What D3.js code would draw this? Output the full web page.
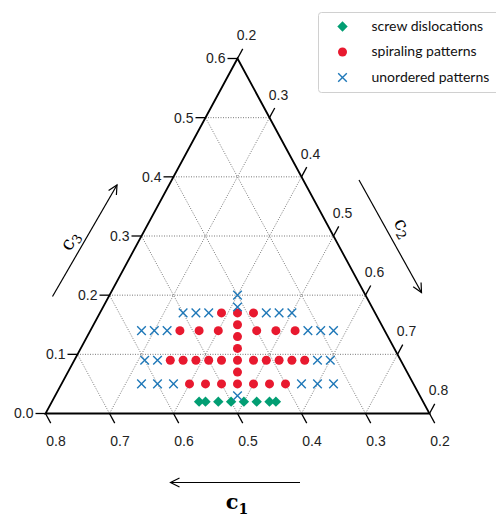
<!DOCTYPE html>
<html>
<head>
<meta charset="utf-8">
<script src="https://cdn.jsdelivr.net/npm/d3@7"></script>
<style>
  html, body { margin: 0; padding: 0; background: #fff; }
  svg { display: block; }
</style>
</head>
<body>
<svg id="chart" width="496" height="516"></svg>
<script>
// Composition points (c1, c2, c3), each row sums to 1.
const screwDislocations = [
  [0.55, 0.43, 0.02], [0.54, 0.44, 0.02], [0.52, 0.46, 0.02], [0.50, 0.48, 0.02],
  [0.48, 0.50, 0.02], [0.46, 0.52, 0.02], [0.44, 0.54, 0.02], [0.43, 0.55, 0.02]
];

const spiralingPatterns = [
  // c3 = 0.17
  [0.44, 0.39, 0.17], [0.415, 0.415, 0.17], [0.39, 0.44, 0.17],
  // c3 = 0.14
  [0.52, 0.34, 0.14], [0.49, 0.37, 0.14], [0.46, 0.40, 0.14],
  [0.40, 0.46, 0.14], [0.37, 0.49, 0.14], [0.34, 0.52, 0.14],
  // c1 = c2 column
  [0.425, 0.425, 0.15], [0.435, 0.435, 0.13], [0.445, 0.445, 0.11], [0.465, 0.465, 0.07],
  // c3 = 0.09
  [0.56, 0.35, 0.09], [0.54, 0.37, 0.09], [0.52, 0.39, 0.09], [0.50, 0.41, 0.09],
  [0.48, 0.43, 0.09], [0.455, 0.455, 0.09], [0.43, 0.48, 0.09], [0.41, 0.50, 0.09],
  [0.39, 0.52, 0.09], [0.37, 0.54, 0.09], [0.35, 0.56, 0.09],
  // c3 = 0.05
  [0.55, 0.40, 0.05], [0.525, 0.425, 0.05], [0.50, 0.45, 0.05], [0.475, 0.475, 0.05],
  [0.45, 0.50, 0.05], [0.425, 0.525, 0.05], [0.40, 0.55, 0.05]
];

const unorderedPatterns = [
  [0.40, 0.40, 0.20], [0.41, 0.41, 0.18], [0.485, 0.485, 0.03],
  // c3 = 0.17
  [0.50, 0.33, 0.17], [0.48, 0.35, 0.17], [0.46, 0.37, 0.17],
  [0.37, 0.46, 0.17], [0.35, 0.48, 0.17], [0.33, 0.50, 0.17],
  // c3 = 0.14
  [0.58, 0.28, 0.14], [0.56, 0.30, 0.14], [0.54, 0.32, 0.14],
  [0.32, 0.54, 0.14], [0.30, 0.56, 0.14], [0.28, 0.58, 0.14],
  // c3 = 0.09
  [0.60, 0.31, 0.09], [0.58, 0.33, 0.09], [0.33, 0.58, 0.09], [0.31, 0.60, 0.09],
  // c3 = 0.05
  [0.625, 0.325, 0.05], [0.60, 0.35, 0.05], [0.575, 0.375, 0.05],
  [0.375, 0.575, 0.05], [0.35, 0.60, 0.05], [0.325, 0.625, 0.05]
];

const c1Ticks = [0.8, 0.7, 0.6, 0.5, 0.4, 0.3, 0.2];
const c2Ticks = [0.2, 0.3, 0.4, 0.5, 0.6, 0.7, 0.8];
const c3Ticks = [0.0, 0.1, 0.2, 0.3, 0.4, 0.5, 0.6];
const gridValues = [0.3, 0.4, 0.5, 0.6, 0.7];
const c3Grid = [0.1, 0.2, 0.3, 0.4, 0.5];

const legendItems = [
  { label: "screw dislocations", kind: "diamond", color: "#029e73" },
  { label: "spiraling patterns", kind: "circle", color: "#e8192f" },
  { label: "unordered patterns", kind: "cross", color: "#1f78b8" }
];

// Limits of the ternary window: c1, c2 in [0.2, 0.8], c3 in [0, 0.6]
const x = d3.scaleLinear().domain([-0.6, 0.6]).range([45.5, 429.5]); // c2 - c1
const y = d3.scaleLinear().domain([0, 0.6]).range([413.5, 58.5]);    // c3
const P = (c1, c2, c3) => [x(c2 - c1), y(c3)];

const svg = d3.select("#chart");

const BL = P(0.8, 0.2, 0.0), BR = P(0.2, 0.8, 0.0), TOP = P(0.2, 0.2, 0.6);

// unit directions along the triangle edges
function unit(a, b) { const dx = b[0] - a[0], dy = b[1] - a[1], l = Math.hypot(dx, dy); return [dx / l, dy / l]; }
const upLeft = unit(BL, TOP);     // along left edge, upward
const downRight = unit(TOP, BR);  // along right edge, downward

// grid
const grid = svg.append("g")
  .attr("fill", "none").attr("stroke", "#6a6a6a")
  .attr("stroke-width", 0.9).attr("stroke-dasharray", "1,1.5");
const line = d3.line();
c3Grid.forEach(v => grid.append("path").attr("d", line([P(0.8 - v, 0.2, v), P(0.2, 0.8 - v, v)])));
gridValues.forEach(v => grid.append("path").attr("d", line([P(v, 1 - v, 0), P(v, 0.2, 0.8 - v)])));
gridValues.forEach(v => grid.append("path").attr("d", line([P(1 - v, v, 0), P(0.2, v, 0.8 - v)])));

// ticks and tick labels
const axes = svg.append("g").attr("stroke", "#000").attr("stroke-width", 1.3);
const labelFont = "'Liberation Sans', Arial, sans-serif";
const tl = svg.append("g").attr("font-family", labelFont).attr("font-size", 14).attr("fill", "#222");

c3Ticks.forEach(v => {
  const p = P(0.8 - v, 0.2, v);
  axes.append("line").attr("x1", p[0]).attr("y1", p[1]).attr("x2", p[0] - 10).attr("y2", p[1]);
  tl.append("text").attr("x", p[0] - 12).attr("y", p[1]).attr("dy", "0.35em")
    .attr("text-anchor", "end").text(d3.format(".1f")(v));
});
c1Ticks.forEach(v => {
  const p = P(v, 1 - v, 0);
  axes.append("line").attr("x1", p[0]).attr("y1", p[1])
    .attr("x2", p[0] + downRight[0] * 11).attr("y2", p[1] + downRight[1] * 11);
  tl.append("text").attr("x", p[0] + 10.5).attr("y", p[1] + 28).attr("dy", "0.35em")
    .attr("text-anchor", "middle").text(d3.format(".1f")(v));
});
c2Ticks.forEach(v => {
  const p = P(0.2, v, 0.8 - v);
  axes.append("line").attr("x1", p[0]).attr("y1", p[1])
    .attr("x2", p[0] + upLeft[0] * 11).attr("y2", p[1] + upLeft[1] * 11);
  tl.append("text").attr("x", p[0] + 9).attr("y", p[1] - 23).attr("dy", "0.35em")
    .attr("text-anchor", "middle").text(d3.format(".1f")(v));
});

// triangle frame
svg.append("path")
  .attr("d", line([BL, BR, TOP]) + "Z")
  .attr("fill", "none").attr("stroke", "#000").attr("stroke-width", 1.8)
  .attr("stroke-linejoin", "miter");

// markers
const marks = svg.append("g");
const diamond = d3.symbol().type(d3.symbolSquare).size(54);
marks.append("g").selectAll("path").data(screwDislocations).join("path")
  .attr("transform", d => `translate(${P(...d)}) rotate(45)`)
  .attr("d", diamond).attr("fill", legendItems[0].color);

marks.append("g").selectAll("circle").data(spiralingPatterns).join("circle")
  .attr("cx", d => P(...d)[0]).attr("cy", d => P(...d)[1])
  .attr("r", 4.5).attr("fill", legendItems[1].color);

const cross = d3.symbol().type(d3.symbolX).size(50);
marks.append("g").selectAll("path").data(unorderedPatterns).join("path")
  .attr("transform", d => `translate(${P(...d)})`)
  .attr("d", cross).attr("fill", "none")
  .attr("stroke", legendItems[2].color).attr("stroke-width", 1.4);

// direction arrows with axis titles
const arrows = svg.append("g").attr("stroke", "#000").attr("stroke-width", 1.2).attr("fill", "none");
function arrow(a, b) {
  arrows.append("path").attr("d", line([a, b]));
  const u = unit(a, b), n = [-u[1], u[0]], L = 9, W = 4.5;
  arrows.append("path").attr("d", line([
    [b[0] - u[0] * L + n[0] * W, b[1] - u[1] * L + n[1] * W], b,
    [b[0] - u[0] * L - n[0] * W, b[1] - u[1] * L - n[1] * W]
  ]));
}
arrow([300, 482.5], [170.5, 482.5]);
arrow([52.5, 296.5], [117, 185]);
arrow([359, 180], [421.5, 292.5]);

const serif = "'DejaVu Serif', 'Liberation Serif', serif";
function axisTitle(cx, cy, rot, sub, bold) {
  const t = svg.append("text")
    .attr("transform", `translate(${cx},${cy}) rotate(${rot})`)
    .attr("text-anchor", "middle").attr("dy", "0.3em")
    .attr("font-family", serif).attr("font-size", bold ? 21 : 19)
    .attr("font-weight", bold ? "bold" : "normal").attr("fill", "#000");
  t.append("tspan").text("c");
  t.append("tspan").attr("font-size", bold ? 14 : 13).attr("dy", "0.3em").text(sub);
}
axisTitle(237, 503, 0, "1", true);
axisTitle(70, 241, -60, "3", false);
axisTitle(403, 228, 60, "2", false);

// legend
const lg = svg.append("g");
lg.append("rect").attr("x", 318.5).attr("y", 12.5).attr("width", 200).attr("height", 80)
  .attr("rx", 3).attr("fill", "#fff").attr("stroke", "#d0d0d0").attr("stroke-width", 1);
legendItems.forEach((it, i) => {
  const cy = 26.5 + i * 25.5, cx = 342.5;
  if (it.kind === "diamond") {
    lg.append("path").attr("transform", `translate(${cx},${cy}) rotate(45)`).attr("d", diamond).attr("fill", it.color);
  } else if (it.kind === "circle") {
    lg.append("circle").attr("cx", cx).attr("cy", cy).attr("r", 4.5).attr("fill", it.color);
  } else {
    lg.append("path").attr("transform", `translate(${cx},${cy})`).attr("d", cross)
      .attr("fill", "none").attr("stroke", it.color).attr("stroke-width", 1.4);
  }
  lg.append("text").attr("x", 371.5).attr("y", cy).attr("dy", "0.32em")
    .attr("font-family", "Lato, 'Open Sans', sans-serif").attr("font-size", 14)
    .attr("fill", "#111").text(it.label);
});
</script>
</body>
</html>
